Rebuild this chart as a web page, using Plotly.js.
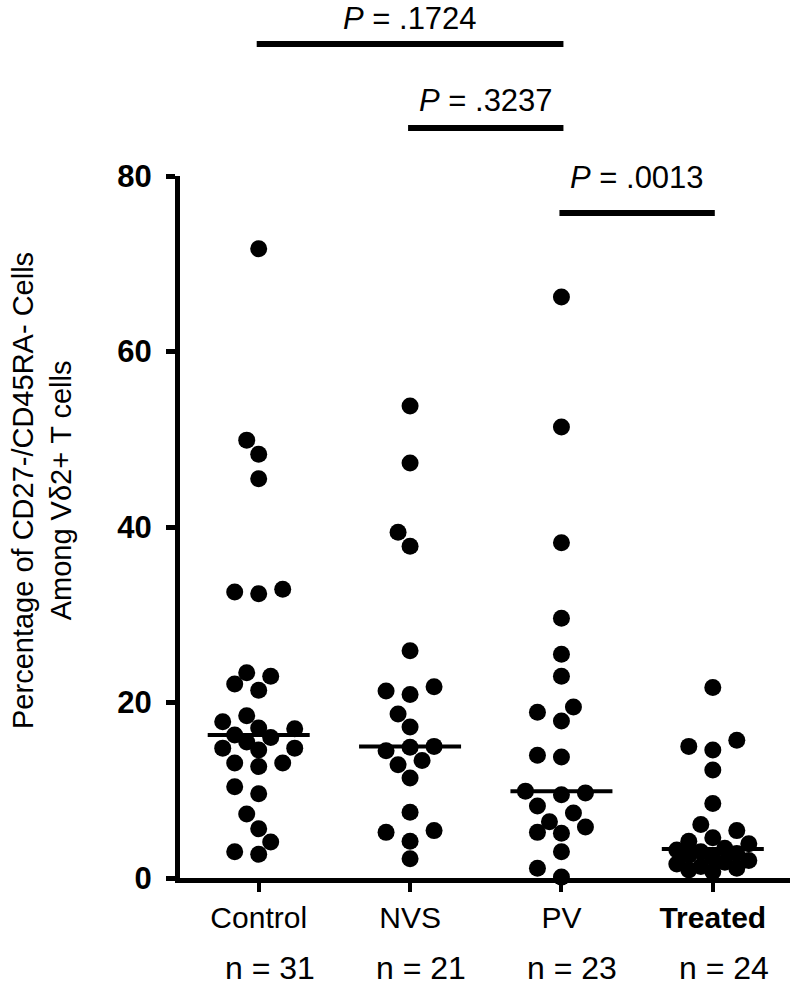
<!DOCTYPE html>
<html><head><meta charset="utf-8">
<script src="https://cdn.plot.ly/plotly-3.0.1.min.js"></script>
<style>html,body{margin:0;padding:0;background:#fff}#chart{width:793px;height:1001px}</style>
</head><body><div id="chart"></div>
<script>
// ---------- DATA ----------
const categories = ['Control', 'NVS', 'PV', 'Treated'];
const groupSizes = ['n = 31', 'n = 21', 'n = 23', 'n = 24'];
const control = [71.7, 49.9, 48.3, 45.5, 32.9, 32.6, 32.4, 23.4, 23.0, 22.1, 21.4, 18.5, 17.8, 17.1, 17.0, 16.3,
                 16.0, 15.5, 14.8, 14.8, 14.6, 13.1, 13.1, 12.7, 10.4, 9.6, 7.3, 5.6, 4.1, 3.0, 2.7];
const nvs = [53.8, 47.3, 39.4, 37.8, 25.9, 21.8, 21.3, 20.9, 18.7, 17.2, 15.0, 14.9, 14.5, 13.4, 12.9, 11.4,
             7.5, 5.4, 5.2, 4.2, 2.2];
const pv = [66.2, 51.4, 38.2, 29.6, 25.5, 23.0, 19.5, 18.9, 17.9, 14.0, 13.8, 9.9, 9.7, 9.5, 8.2, 7.4,
            6.4, 5.8, 5.2, 5.1, 3.0, 1.1, 0.1];
const treated = [21.7, 15.7, 15.0, 14.6, 12.3, 8.5, 6.1, 5.4, 4.6, 4.2, 3.9, 3.4, 3.2, 3.0, 2.8, 2.6,
                 2.3, 2.0, 1.8, 1.6, 1.3, 1.1, 0.9, 0.7];
const compFrom = ['Control', 'NVS', 'PV'];
const compTo = ['PV', 'PV', 'Treated'];
const compP = ['.1724', '.3237', '.0013'];
const yTicks = [0, 20, 40, 60, 80];

// ---------- LAYOUT CONSTANTS ----------
const W = 793, H = 1001;
const M = {l: 180, r: 3, t: 176, b: 123};
const plotW = W - M.l - M.r, plotH = H - M.t - M.b;
const xRange = [0.48, 4.51], yRange = [0, 80];
const pxPerX = plotW / (xRange[1] - xRange[0]);
const pxPerY = plotH / (yRange[1] - yRange[0]);
const FONT = 'Liberation Sans, Arial, sans-serif';
const groups = [control, nvs, pv, treated];

// beeswarm placement (pixel based)
function swarm(vals) {
  const cand = [0, -12, 12, -24, 24, -36, 36];
  const D = 16;
  const placed = [];
  const order = vals.map((v, i) => i).sort((a, b) => vals[a] - vals[b]);
  const offs = new Array(vals.length).fill(0);
  order.forEach(i => {
    const ypx = vals[i] * pxPerY;
    let best = null, bestD = -1;
    for (const c of cand) {
      let md = Infinity;
      for (const p of placed) {
        const d = Math.hypot(p.x - c, p.y - ypx);
        if (d < md) md = d;
      }
      if (md >= D) { best = c; bestD = md; break; }
      if (md > bestD) { bestD = md; best = c; }
    }
    placed.push({x: best, y: ypx});
    offs[i] = best / pxPerX;
  });
  return offs;
}
function median(a) {
  const s = [...a].sort((x, y) => x - y), n = s.length;
  return n % 2 ? s[(n - 1) / 2] : (s[n / 2 - 1] + s[n / 2]) / 2;
}

const traces = [];
groups.forEach((vals, gi) => {
  const offs = swarm(vals);
  traces.push({
    type: 'scatter', mode: 'markers', cliponaxis: false, hoverinfo: 'skip',
    x: vals.map((v, i) => gi + 1 + offs[i]), y: vals,
    marker: {color: '#000', size: 17, line: {width: 0}}
  });
  const med = median(vals);
  const half = 51 / pxPerX;
  traces.push({
    type: 'scatter', mode: 'lines', cliponaxis: false, hoverinfo: 'skip',
    x: [gi + 1 - half, gi + 1 + half], y: [med, med],
    line: {color: '#000', width: 4}
  });
});

const toPaperX = x => (x - xRange[0]) / (xRange[1] - xRange[0]);
const toPaperYpx = py => (H - M.b - py) / plotH; // py = absolute pixel from top
const barPx = [44, 128, 213];
const labelPx = [18, 100, 177];
const shapes = [], annotations = [];
compFrom.forEach((a, k) => {
  const x0 = categories.indexOf(a) + 1, x1 = categories.indexOf(compTo[k]) + 1;
  shapes.push({type: 'line', xref: 'paper', yref: 'paper',
    x0: toPaperX(x0) - 2 / plotW, x1: toPaperX(x1) + 2 / plotW,
    y0: toPaperYpx(barPx[k]), y1: toPaperYpx(barPx[k]),
    line: {color: '#000', width: 6}});
  annotations.push({xref: 'paper', yref: 'paper', x: (toPaperX(x0) + toPaperX(x1)) / 2,
    y: toPaperYpx(labelPx[k]), xanchor: 'center', yanchor: 'middle', showarrow: false,
    text: '<i>P</i> = ' + compP[k], font: {family: FONT, size: 31, color: '#000'}});
});
groupSizes.forEach((t, i) => {
  annotations.push({xref: 'x', yref: 'paper', x: i + 1, y: 0, xanchor: 'center', yanchor: 'middle',
    xshift: 11, yshift: -90, showarrow: false, text: t,
    font: {family: FONT, size: 32, color: '#000'}});
});
annotations.push({xref: 'paper', yref: 'paper', x: 0, y: toPaperYpx(491), xshift: 42 - M.l,
  xanchor: 'center', yanchor: 'middle', textangle: -90, showarrow: false,
  text: 'Percentage of CD27-/CD45RA- Cells<br>Among V\u03b42+ T cells',
  font: {family: FONT, size: 29, color: '#000'}});

const layout = {
  width: W, height: H, margin: M, showlegend: false,
  paper_bgcolor: '#fff', plot_bgcolor: '#fff',
  font: {family: FONT, color: '#000'},
  xaxis: {range: xRange, tickvals: [1, 2, 3, 4],
    ticktext: categories.map(c => c === 'Treated' ? '<b>' + c + '</b>' : c),
    showgrid: false, zeroline: false, showline: true, linewidth: 5, linecolor: '#000',
    ticks: 'outside', ticklen: 9, tickwidth: 4, tickcolor: '#000',
    tickfont: {family: FONT, size: 30, color: '#000'}},
  yaxis: {range: yRange, tickvals: yTicks, ticktext: yTicks.map(String),
    showgrid: false, zeroline: false, showline: true, linewidth: 5, linecolor: '#000',
    ticks: 'outside', ticklen: 9, tickwidth: 5, tickcolor: '#000', ticklabelstandoff: 8,
    tickfont: {family: FONT, size: 31, color: '#000', weight: 'bold'}},
  shapes: shapes, annotations: annotations
};
Plotly.newPlot('chart', traces, layout, {staticPlot: true, displayModeBar: false});
</script></body></html>
